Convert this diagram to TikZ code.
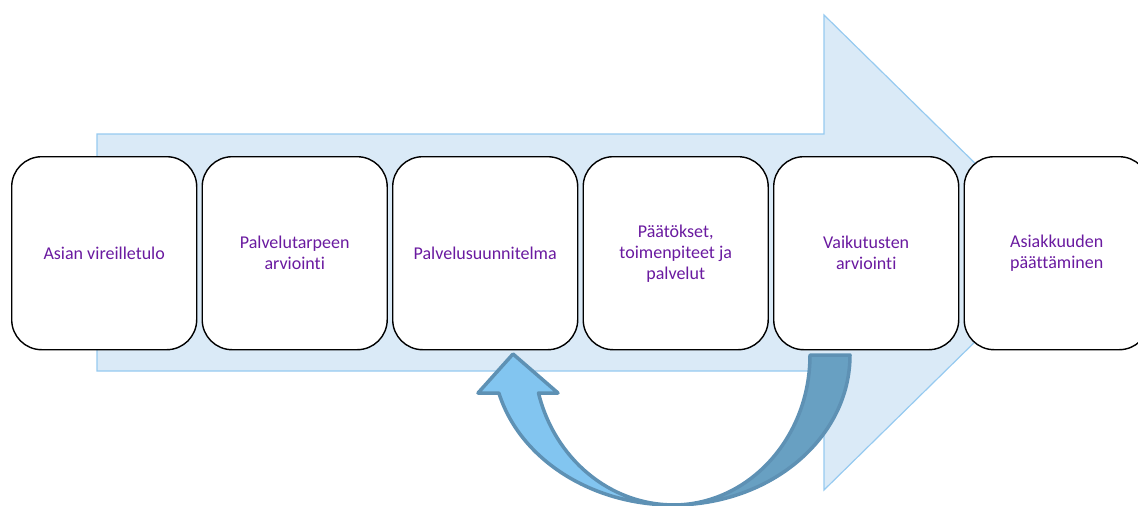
\documentclass[tikz,border=0pt]{standalone}
\usepackage{fontspec}
\setmainfont{Carlito}[Ligatures=CommonOff]
\begin{document}
\begin{tikzpicture}[x=1pt,y=-1pt,
  stepbox/.style={draw=black,line width=1.4pt,fill=white,rounded corners=30pt,
    minimum width=185pt,minimum height=193pt,anchor=north west,align=center,
    text=txtpurple,font=\fontsize{18}{21}\selectfont,inner sep=2pt},
  bigarrow/.style={fill=arrowfill,draw=arrowline,line width=1.2pt},
  band/.style={draw=bandline,line width=3.5pt,line join=round}]
\definecolor{txtpurple}{RGB}{106,26,160}
\definecolor{arrowfill}{RGB}{218,234,247}
\definecolor{arrowline}{RGB}{150,202,240}
\definecolor{bandline}{RGB}{94,145,180}
\definecolor{lightband}{RGB}{130,197,240}
\definecolor{darkband}{RGB}{104,160,194}
\useasboundingbox (0,0) rectangle (1138,506);
% big arrow
\draw[bigarrow] (97,134) -- (824,134) -- (824,15) -- (1066,252.5) -- (824,490) -- (824,371) -- (97,371) -- cycle;
% curved arrow (right, dark band)
\coordinate (c) at (673,355);
\draw[band,fill=darkband] (850,355) arc[start angle=0,end angle=90,x radius=177,y radius=150]
  arc[start angle=90,end angle=0,x radius=137,y radius=150] -- cycle;
% left, light band with head
\draw[band,fill=lightband] (673,505) arc[start angle=90,end angle=165.3,x radius=180,y radius=150]
  -- (478,393) -- (513,354) -- (558,393) -- (538.5,393)
  arc[start angle=165.3,end angle=90,x radius=139.6,y radius=150] -- cycle;
% boxes
\node[stepbox] (b1) at (11,156) {Asian vireilletulo};
\node[stepbox] (b2) at (201.5,156) {Palvelutarpeen\\arviointi};
\node[stepbox] (b3) at (392,156) {Palvelusuunnitelma};
\node[stepbox] (b4) at (582.5,156) {Päätökset,\\toimenpiteet ja\\palvelut};
\node[stepbox] (b5) at (773,156) {Vaikutusten\\arviointi};
\node[stepbox] (b6) at (963.5,156) {Asiakkuuden\\päättäminen};
\end{tikzpicture}
\end{document}
